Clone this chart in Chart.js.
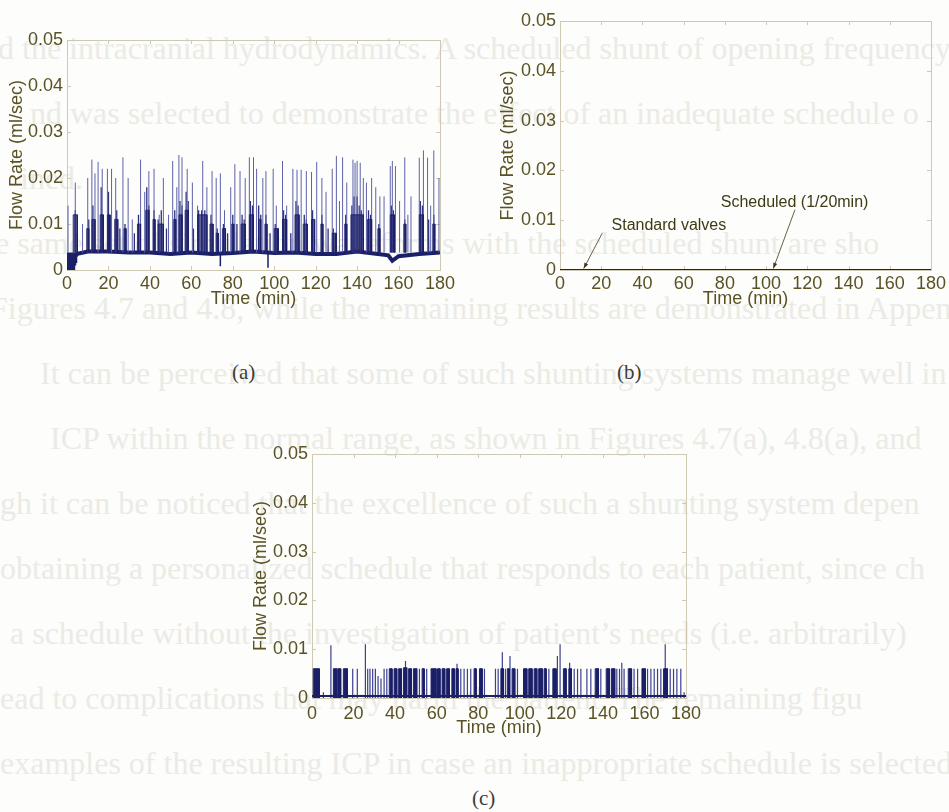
<!DOCTYPE html>
<html>
<head>
<meta charset="utf-8">
<script src="https://cdn.jsdelivr.net/npm/chart.js@4.4.0/dist/chart.umd.min.js"></script>
<style>
  html, body { margin: 0; padding: 0; }
  body { width: 949px; height: 812px; position: relative; overflow: hidden; background: #fdfdfb; }
  .page { position: absolute; white-space: nowrap; font-family: "Liberation Serif", serif; font-size: 32px; color: #ebebe6; }
  .panel { position: absolute; filter: blur(0.4px); }
  .cap { position: absolute; font-family: "Liberation Serif", serif; font-size: 21px; color: #3c3c3c; }
</style>
</head>
<body>
<div id="page"></div>
<canvas id="chartA" class="panel" width="460" height="300" style="left:0px;top:20px"></canvas>
<canvas id="chartB" class="panel" width="469" height="320" style="left:480px;top:0px"></canvas>
<canvas id="chartC" class="panel" width="480" height="320" style="left:230px;top:430px"></canvas>
<div class="cap" style="left:232px;top:360px">(a)</div>
<div class="cap" style="left:617px;top:360px">(b)</div>
<div class="cap" style="left:472px;top:786px">(c)</div>
<script>
// ---- (a) standard valves: flow rate over 180 min ----
const aBaseTime = [0, 1, 2, 3, 4, 5, 10, 20, 30, 40, 50, 60, 70, 80, 90, 100, 110, 120, 130, 140, 150, 155, 157, 160, 170, 180];
const aBaseFlow = [0.0025, 0.0022, 0.0025, 0.0028, 0.003, 0.0035, 0.004, 0.004, 0.0038, 0.0038, 0.0035, 0.0038, 0.0035, 0.0037, 0.004, 0.0037, 0.0038, 0.0035, 0.0035, 0.004, 0.0035, 0.0032, 0.002, 0.003, 0.0035, 0.0038];
const aFloor = 0.0038;
const aSpikeTime = [0.5, 4, 7.5, 10, 12, 13.5, 15, 17, 19.5, 21.5, 23.5, 27, 29.5, 31.5, 35.5, 37.5, 39.5, 42, 44.5, 46.5, 49, 51, 53, 54, 55.5, 58, 60.5, 63, 65.5, 67.5, 70, 72, 74, 76, 79, 81, 83.5, 86, 88, 90, 91.5, 94.5, 96, 99.5, 101, 104, 106, 109, 111, 113, 115.5, 118, 120.5, 123, 125, 128, 130, 131.5, 133, 135, 138, 139, 140, 141.5, 143, 144.5, 147, 149, 151, 153, 156, 157, 158.5, 160.5, 163, 164.5, 166, 170, 172, 174, 175.5, 177, 179.5];
const aSpikeFlow = [0.014, 0.019, 0.01, 0.02, 0.024, 0.021, 0.0235, 0.022, 0.022, 0.022, 0.02, 0.0245, 0.02, 0.011, 0.024, 0.017, 0.0215, 0.022, 0.012, 0.02, 0.012, 0.0237, 0.018, 0.025, 0.0245, 0.022, 0.019, 0.014, 0.0237, 0.018, 0.0215, 0.02, 0.021, 0.013, 0.018, 0.023, 0.0215, 0.02, 0.0245, 0.0245, 0.022, 0.02, 0.0215, 0.022, 0.014, 0.0237, 0.014, 0.022, 0.0218, 0.0218, 0.0215, 0.0213, 0.0235, 0.02, 0.017, 0.022, 0.0248, 0.015, 0.0245, 0.019, 0.024, 0.0233, 0.0237, 0.0233, 0.02, 0.019, 0.02, 0.018, 0.016, 0.016, 0.0226, 0.0237, 0.0226, 0.015, 0.0245, 0.012, 0.016, 0.0244, 0.026, 0.0244, 0.014, 0.026, 0.02];
const aMidTime = [4, 5, 10.5, 12.5, 16.5, 17.5, 20, 21, 24, 25.5, 28, 32.5, 34.5, 38.5, 39.5, 42, 44, 45.5, 48, 52, 54.5, 55.5, 57.5, 58.5, 61, 63.5, 65, 66.5, 69.5, 72.5, 75.5, 77.5, 80, 82, 84.5, 85.5, 88.5, 89.5, 92.5, 93.5, 96, 98, 100.5, 101.5, 104.5, 105.5, 108, 110.5, 111.5, 114.5, 115.5, 118.5, 123, 126, 128.5, 129.5, 134.5, 137.5, 138.5, 140, 141, 142, 145.5, 146.5, 150.5, 156.5, 157.5, 163, 170.5, 171.5, 174.5, 177];
const aMidFlow = [0.013, 0.008, 0.011, 0.014, 0.018, 0.012, 0.017, 0.012, 0.013, 0.009, 0.01, 0.008, 0.012, 0.018, 0.014, 0.013, 0.011, 0.013, 0.009, 0.013, 0.015, 0.014, 0.017, 0.015, 0.009, 0.013, 0.013, 0.013, 0.012, 0.009, 0.01, 0.008, 0.012, 0.01, 0.012, 0.011, 0.015, 0.014, 0.014, 0.012, 0.012, 0.008, 0.01, 0.009, 0.013, 0.012, 0.008, 0.015, 0.014, 0.012, 0.011, 0.013, 0.012, 0.009, 0.009, 0.008, 0.012, 0.014, 0.016, 0.016, 0.014, 0.013, 0.013, 0.012, 0.01, 0.014, 0.013, 0.011, 0.015, 0.014, 0.011, 0.012];
const aBurstStart = [3, 9.5, 12, 16, 19.5, 23, 27.5, 34, 38, 41.5, 44, 51.5, 54, 57, 63, 69, 72, 75, 79.5, 84, 88, 92.5, 95.5, 100, 104, 110, 114, 118, 122.5, 128, 134, 137, 145, 150, 156, 162.5, 170, 176.5];
const aBurstEnd = [5, 10.5, 13.5, 17.5, 20.5, 24.5, 28.5, 35.5, 39.5, 42.5, 46.5, 52.5, 55.5, 58.5, 67.5, 70.5, 73, 76.5, 80.5, 86, 90, 93.5, 96.5, 102, 106, 112, 116, 119.5, 123.5, 130, 135, 143, 147, 151, 158, 163.5, 172, 177.5];
const aBurstFlow = [0.012, 0.009, 0.011, 0.012, 0.012, 0.011, 0.009, 0.01, 0.013, 0.011, 0.01, 0.011, 0.012, 0.013, 0.012, 0.01, 0.008, 0.009, 0.01, 0.01, 0.012, 0.011, 0.01, 0.009, 0.011, 0.012, 0.01, 0.011, 0.01, 0.008, 0.01, 0.012, 0.011, 0.009, 0.012, 0.01, 0.012, 0.01];
const aDipTime = [0.3, 0.8, 1.3, 1.8, 2.2, 2.7, 3.1, 3.6, 4.1, 4.6, 74, 97];
const aDipFlow = [0, 0, 0, 0, 0, 0, 0, 0, 0.001, 0.0015, 0.0008, 0.0005];

// ---- (b) scheduled shunt, one opening every 20 min ----
const bTime = [0, 180];
const bFlow = [0, 0];

// ---- (c) scheduled shunt, wider openings ----
const cBaseTime = [0, 180];
const cBaseFlow = [0.0004, 0.0004];
const cBlockStart = [0.6, 10.3, 12.4, 15.1, 37.2, 39.5, 41.7, 44, 46.5, 48.8, 53, 57.3, 60.4, 62.6, 64.8, 67.3, 69.3, 78, 80.6, 90.9, 94, 96.3, 101.8, 104.3, 106.9, 109.1, 111.7, 115.9, 121, 123.6, 136.3, 141.6, 144.1, 152.2, 158.8, 169.2];
const cBlockEnd = [3.5, 11.9, 13.8, 17, 38.5, 40.8, 43, 45.6, 47.8, 50.4, 54, 59.7, 61.6, 63.9, 66.1, 68.5, 70.3, 79, 81.9, 92.1, 95, 97.6, 103.4, 105.9, 108.2, 110.8, 112.7, 117.5, 122.3, 124.9, 137.9, 143.2, 145.7, 153.8, 160.4, 171.1];
const cBlockFlow = [0.006, 0.006, 0.006, 0.006, 0.006, 0.006, 0.006, 0.0062, 0.006, 0.006, 0.006, 0.006, 0.006, 0.006, 0.006, 0.006, 0.006, 0.006, 0.006, 0.006, 0.006, 0.006, 0.006, 0.006, 0.006, 0.006, 0.006, 0.006, 0.006, 0.006, 0.006, 0.006, 0.006, 0.006, 0.006, 0.006];
const cPulseTime = [5.5, 9.1, 19.6, 21.8, 25.7, 26.8, 27.9, 29.2, 30.5, 31.8, 33.2, 34.7, 36, 45, 51.7, 55.2, 69.8, 71.6, 73.2, 74.8, 76.4, 83, 88.3, 89.6, 91.6, 93.1, 95.3, 98.9, 114, 118.1, 119.4, 124, 126.2, 127.8, 129.4, 132.3, 134.2, 139, 146.7, 148, 149.1, 150.2, 155, 156.7, 161.5, 163.1, 164.7, 166.3, 167.9, 170, 172.4, 174, 175.6, 177.5, 179.1];
const cPulseFlow = [0.0012, 0.0108, 0.006, 0.006, 0.011, 0.006, 0.006, 0.006, 0.006, 0.0045, 0.004, 0.006, 0.006, 0.0076, 0.006, 0.006, 0.007, 0.006, 0.006, 0.006, 0.006, 0.006, 0.006, 0.006, 0.0094, 0.006, 0.0086, 0.006, 0.006, 0.0086, 0.011, 0.0072, 0.006, 0.006, 0.006, 0.006, 0.006, 0.006, 0.006, 0.006, 0.0072, 0.006, 0.006, 0.006, 0.006, 0.006, 0.006, 0.006, 0.006, 0.011, 0.006, 0.006, 0.006, 0.006, 0.0012];

const timeTicks = { min: 0, max: 180, step: 20 };
const flowTicks = { min: 0, max: 0.05, step: 0.01 };

const pageLines = [
  ['d the intracranial hydrodynamics. A scheduled shunt of opening frequency', -2],
  ['nd was selected to demonstrate the effect of an inadequate schedule o', 30],
  ['ined.', 20],
  ['e same set of simulation waveforms with the scheduled shunt are sho', -5],
  ['Figures 4.7 and 4.8, while the remaining results are demonstrated in Appen', -10],
  ['It can be perceived that some of such shunting systems manage well in maint', 40],
  ['ICP within the normal range, as shown in Figures 4.7(a), 4.8(a), and', 50],
  ['gh it can be noticed that the excellence of such a shunting system depen', 0],
  ['obtaining a personalized schedule that responds to each patient, since ch', 0],
  ['a schedule without the investigation of patient\u2019s needs (i.e. arbitrarily)', 10],
  ['ead to complications that may harm the patient. The remaining figu', 0],
  ['examples of the resulting ICP in case an inappropriate schedule is selected', 0]
];

const TXT = '#5a5224';
const FRAME = '#cdc9b2';
const NAVY = '#1b1f68';
const NAVY_MID = '#2c3180';
const NAVY_LIGHT = '#5d62aa';
const FONT = 'Liberation Sans';

// faint lines of the facing page
const page = document.getElementById('page');
pageLines.forEach(([text, x], i) => {
  const d = document.createElement('div');
  d.className = 'page';
  d.textContent = text;
  d.style.left = x + 'px';
  d.style.top = (30 + i * 65) + 'px';
  page.appendChild(d);
});

function xy(t, v) { return { x: t, y: v }; }

// vertical strokes from a floor level up to each value
function strokes(times, values, floor) {
  const pts = [];
  times.forEach((t, i) => { pts.push(xy(t, floor), xy(t, values[i]), xy(t, null)); });
  return pts;
}

// flat-topped blocks between start and end
function blocks(starts, ends, values, floor) {
  const pts = [];
  starts.forEach((s, i) => {
    pts.push(xy(s, floor), xy(s, values[i]), xy(ends[i], values[i]), xy(ends[i], floor), xy(ends[i], null));
  });
  return pts;
}

// box with inward tick marks on all four sides
const boxTicks = {
  id: 'boxTicks',
  beforeDatasetsDraw(chart) {
    const { ctx, chartArea: a, scales: { x, y } } = chart;
    ctx.save();
    ctx.strokeStyle = FRAME;
    ctx.lineWidth = 1;
    ctx.strokeRect(a.left + 0.5, a.top + 0.5, a.width, a.height);
    ctx.beginPath();
    x.ticks.forEach(t => {
      const px = Math.round(x.getPixelForValue(t.value)) + 0.5;
      ctx.moveTo(px, a.bottom); ctx.lineTo(px, a.bottom - 4);
      ctx.moveTo(px, a.top); ctx.lineTo(px, a.top + 4);
    });
    y.ticks.forEach(t => {
      const py = Math.round(y.getPixelForValue(t.value)) + 0.5;
      ctx.moveTo(a.left, py); ctx.lineTo(a.left + 4, py);
      ctx.moveTo(a.right, py); ctx.lineTo(a.right - 4, py);
    });
    ctx.stroke();
    ctx.restore();
  }
};

// text labels with arrows, placed in data units
const bNotes = [
  { text: 'Standard valves', at: [25, 0.009], from: [20.5, 0.0074], to: [11.5, 0.0003] },
  { text: 'Scheduled (1/20min)', at: [78, 0.0136], from: [114, 0.0121], to: [103.5, 0.0003] }
];
const notes = {
  id: 'notes',
  afterDatasetsDraw(chart, args, opts) {
    const { ctx, scales: { x, y } } = chart;
    ctx.save();
    ctx.fillStyle = '#3f3a16';
    ctx.strokeStyle = '#3f3a16';
    ctx.lineWidth = 0.8;
    ctx.font = '16px ' + FONT;
    ctx.textBaseline = 'middle';
    (opts.items || []).forEach(n => {
      ctx.fillText(n.text, x.getPixelForValue(n.at[0]), y.getPixelForValue(n.at[1]));
      const x0 = x.getPixelForValue(n.from[0]), y0 = y.getPixelForValue(n.from[1]);
      const x1 = x.getPixelForValue(n.to[0]), y1 = y.getPixelForValue(n.to[1]);
      ctx.beginPath(); ctx.moveTo(x0, y0); ctx.lineTo(x1, y1); ctx.stroke();
      const ang = Math.atan2(y1 - y0, x1 - x0), L = 6;
      ctx.beginPath();
      ctx.moveTo(x1, y1);
      ctx.lineTo(x1 - L * Math.cos(ang - 0.35), y1 - L * Math.sin(ang - 0.35));
      ctx.lineTo(x1 - L * Math.cos(ang + 0.35), y1 - L * Math.sin(ang + 0.35));
      ctx.closePath(); ctx.fill();
    });
    ctx.restore();
  }
};

function options(p) {
  const font = { family: FONT, size: 18 };
  return {
    responsive: false,
    animation: false,
    spanGaps: false,
    layout: { padding: { top: p.top, right: p.right, left: 0, bottom: 0 } },
    elements: { point: { radius: 0 }, line: { tension: 0 } },
    plugins: { legend: { display: false }, tooltip: { enabled: false }, notes: { items: p.notes || [] } },
    scales: {
      x: {
        type: 'linear', min: timeTicks.min, max: timeTicks.max,
        border: { display: false },
        grid: { display: false, drawTicks: false },
        ticks: { stepSize: timeTicks.step, color: TXT, font, padding: p.xPad, maxRotation: 0 },
        title: { display: true, text: 'Time (min)', color: TXT, font, padding: { top: 0, bottom: p.xTitle } },
        afterFit: s => { s.height = p.xH; }
      },
      y: {
        min: flowTicks.min, max: flowTicks.max,
        border: { display: false },
        grid: { display: false, drawTicks: false },
        ticks: { stepSize: flowTicks.step, color: TXT, font, padding: 4,
                 callback: v => v === 0 ? '0' : v.toFixed(2) },
        title: { display: true, text: 'Flow Rate (ml/sec)', color: TXT, font, padding: { top: p.yTitle, bottom: 0 } },
        afterFit: s => { s.width = p.yW; }
      }
    }
  };
}

new Chart(document.getElementById('chartA'), {
  type: 'line',
  data: {
    datasets: [
      { data: blocks(aBurstStart, aBurstEnd, aBurstFlow, aFloor), borderColor: 'rgba(27,31,104,0.85)', borderWidth: 1,
        backgroundColor: 'rgba(27,31,104,0.7)', fill: { value: aFloor } },
      { data: strokes(aSpikeTime, aSpikeFlow, aFloor), borderColor: NAVY_LIGHT, borderWidth: 1 },
      { data: strokes(aMidTime, aMidFlow, aFloor), borderColor: NAVY_MID, borderWidth: 1.3 },
      { data: strokes(aDipTime, aDipFlow, aFloor), borderColor: NAVY, borderWidth: 1.5 },
      { data: aBaseTime.map((t, i) => xy(t, aBaseFlow[i])), borderColor: NAVY, borderWidth: 4 }
    ]
  },
  options: options({ top: 20, right: 20, yW: 67, xH: 50, xPad: 3, xTitle: 10, yTitle: 6 }),
  plugins: [boxTicks]
});

new Chart(document.getElementById('chartB'), {
  type: 'line',
  data: {
    datasets: [
      { data: bTime.map((t, i) => xy(t, bFlow[i])), borderColor: NAVY, borderWidth: 2 }
    ]
  },
  options: options({ top: 21, right: 15, yW: 80, xH: 50, xPad: 3, xTitle: 10, yTitle: 17, notes: bNotes }),
  plugins: [boxTicks, notes]
});

new Chart(document.getElementById('chartC'), {
  type: 'line',
  data: {
    datasets: [
      { data: cBaseTime.map((t, i) => xy(t, cBaseFlow[i])), borderColor: NAVY, borderWidth: 2 },
      { data: blocks(cBlockStart, cBlockEnd, cBlockFlow, 0), borderColor: NAVY, borderWidth: 1,
        backgroundColor: NAVY, fill: 'origin' },
      { data: strokes(cPulseTime, cPulseFlow, 0), borderColor: '#3b4090', borderWidth: 1.2 }
    ]
  },
  options: options({ top: 24, right: 24, yW: 82, xH: 52, xPad: 5, xTitle: 11, yTitle: 20 }),
  plugins: [boxTicks]
});
</script>
</body>
</html>
